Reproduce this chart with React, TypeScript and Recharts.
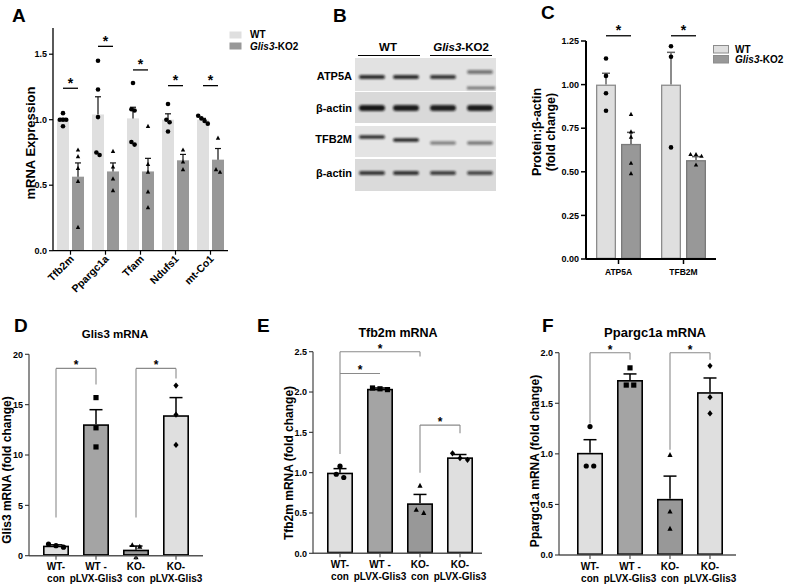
import React from 'react'
import { BarChart, Bar, XAxis, YAxis, ReferenceLine, Legend, Cell } from 'recharts'

const FONT = 'Arial, "Liberation Sans", Helvetica, sans-serif'
const LIGHT = '#dfdfdf'
const MID = '#a4a4a4'
const DARK = '#989898'

// ---- A: mRNA expression, WT vs Glis3-KO2
const genesA = ['Tfb2m', 'Ppargc1a', 'Tfam', 'Ndufs1', 'mt-Co1']
const wtMeanA = [1.0, 1.04, 1.01, 1.0, 1.0]
const wtSemA = [0.01, 0.135, 0.085, 0.045, 0.01]
const koMeanA = [0.565, 0.605, 0.605, 0.69, 0.695]
const koSemA = [0.105, 0.065, 0.1, 0.045, 0.085]
const wtPtsA = [[1.05, 1.0, 1.0, 1.0, 0.95], [1.45, 1.23, 1.02, 0.75, 0.73], [1.28, 1.08, 1.07, 0.83, 0.81], [1.12, 1.0, 0.98, 0.91], [1.03, 1.01, 0.99, 0.97]]
const koPtsA = [[0.77, 0.72, 0.63, 0.53, 0.18], [0.76, 0.64, 0.55, 0.46], [0.95, 0.66, 0.6, 0.45, 0.33], [0.77, 0.68, 0.62], [0.86, 0.62, 0.6]]
const sigA = [1.24, 1.56, 1.38, 1.26, 1.26]

// ---- B: western blot band darkness per row / lane
const blotRows = ['ATP5A', 'β-actin', 'TFB2M', 'β-actin']
const bandDarkness = [[0.85, 0.85, 0.8, 0.5], [0.95, 0.92, 0.9, 0.92], [0.85, 0.9, 0.45, 0.5], [0.8, 0.82, 0.75, 0.7]]

// ---- C: protein / β-actin
const catsC = ['ATP5A', 'TFB2M']
const wtMeanC = [1.0, 1.0]
const wtSemC = [0.065, 0.185]
const koMeanC = [0.66, 0.567]
const koSemC = [0.066, 0.02]
const wtPtsC = [[1.15, 1.05, 0.95, 0.85], [1.22, 1.16, 0.64]]
const koPtsC = [[0.83, 0.73, 0.7, 0.55, 0.49], [0.6, 0.6, 0.59, 0.54]]
const sigC = [1.28, 1.28]

// ---- D/E/F: rescue with pLVX-Glis3
const groups = ['WT-con', 'WT-pLVX', 'KO-con', 'KO-pLVX']
const tickTop = ['WT-', 'WT -', 'KO-', 'KO-']
const tickBottom = ['con', 'pLVX-Glis3', 'con', 'pLVX-Glis3']
const groupFill = [LIGHT, MID, DARK, LIGHT]
const groupMarker = ['circle', 'square', 'triangle', 'diamond']

const meanD = [1.0, 13.05, 0.6, 13.95]
const semD = [0.08, 1.45, 0.36, 1.75]
const ptsD = [[0.85, 1.15, 1.0], [15.7, 12.7, 10.8], [1.06, 0.9, -0.15], [16.9, 14.0, 11.0]]
const bracketsD = [
  { from: 'WT-con', to: 'WT-pLVX', y: 18.6, yFrom: 3.8, yTo: 17.0 },
  { from: 'KO-con', to: 'KO-pLVX', y: 18.6, yFrom: 3.8, yTo: 17.6 },
]

const meanE = [1.0, 2.04, 0.62, 1.19]
const semE = [0.05, 0.01, 0.11, 0.035]
const ptsE = [[1.08, 0.98, 0.94], [2.03, 2.05, 2.04], [0.84, 0.5, 0.54], [1.24, 1.18, 1.16]]
const bracketsE = [
  { from: 'WT-con', to: 'KO-con', y: 2.5, yFrom: 1.23, yTo: 2.44 },
  { from: 'WT-con', to: 'WT-pLVX', y: 2.23, yFrom: 2.23, yTo: 2.23 },
  { from: 'KO-con', to: 'KO-pLVX', y: 1.59, yFrom: 1.0, yTo: 1.49 },
]

const meanF = [1.01, 1.73, 0.555, 1.61]
const semF = [0.13, 0.06, 0.225, 0.14]
const ptsF = [[1.27, 0.88, 0.88], [1.85, 1.68, 1.68], [0.99, 0.43, 0.26], [1.87, 1.56, 1.4]]
const bracketsF = [
  { from: 'WT-con', to: 'WT-pLVX', y: 2.0, yFrom: 1.3, yTo: 1.93 },
  { from: 'KO-con', to: 'KO-pLVX', y: 2.0, yFrom: 1.04, yTo: 1.93 },
]

const rowsA = genesA.map((g, i) => ({
  gene: g, wt: wtMeanA[i], ko: koMeanA[i], wtSem: wtSemA[i], koSem: koSemA[i],
  wtPts: wtPtsA[i], koPts: koPtsA[i], sig: sigA[i],
}))
const rowsC = catsC.map((c, i) => ({
  cat: c, wt: wtMeanC[i], ko: koMeanC[i], wtSem: wtSemC[i], koSem: koSemC[i],
  wtPts: wtPtsC[i], koPts: koPtsC[i], sig: sigC[i],
}))
const rescueRows = (mean: number[], sem: number[], pts: number[][]) =>
  groups.map((g, i) => ({ group: g, mean: mean[i], sem: sem[i], pts: pts[i], marker: groupMarker[i] }))

function Marker({ kind, x, y, s }: any) {
  const h = s / 2
  if (kind === 'circle') return <circle cx={x} cy={y} r={h} fill="#000" />
  if (kind === 'square') return <rect x={x - h} y={y - h} width={s} height={s} fill="#000" />
  if (kind === 'diamond') return <polygon points={`${x},${y - h * 1.2} ${x + h},${y} ${x},${y + h * 1.2} ${x - h},${y}`} fill="#000" />
  return <polygon points={`${x},${y - h * 1.1} ${x + h},${y + h * 0.8} ${x - h},${y + h * 0.8}`} fill="#000" />
}

// GraphPad-ish scatter: replicates closer than one marker sit side by side, centred on the bar
function spread(ys: number[], s: number, d: number) {
  const order = ys.map((y, i) => i).sort((a, b) => ys[a] - ys[b])
  const dx = new Array(ys.length).fill(0)
  let cluster: number[] = []
  const flush = () => {
    cluster.forEach((idx, k) => { dx[idx] = (k - (cluster.length - 1) / 2) * d })
    cluster = []
  }
  order.forEach(idx => {
    if (cluster.length && Math.abs(ys[idx] - ys[cluster[cluster.length - 1]]) >= s) flush()
    cluster.push(idx)
  })
  flush()
  return dx
}

function barShape(o: any) {
  return (props: any) => {
    const { x, y, width, height, fill, payload } = props
    const mean = payload[o.meanKey]
    const base = y + height
    const ppu = height / mean
    const toY = (v: number) => base - v * ppu
    const cx = x + width / 2
    const sw = o.strokeWidth ?? 0
    const yErr = toY(mean + payload[o.semKey])
    const ys = payload[o.ptsKey].map(toY)
    const dx = spread(ys, o.markerSize, o.dodge)
    const kind = o.marker ?? payload.marker
    const sigY = o.sig ? toY(payload.sig) : 0
    return (
      <g>
        <rect x={x + sw / 2} y={y + sw / 2} width={width - sw} height={Math.max(0, height - sw)}
          fill={fill} stroke={o.stroke ?? 'none'} strokeWidth={sw} />
        <line x1={cx} x2={cx} y1={y} y2={yErr} stroke={o.errColor} strokeWidth={o.errWidth} />
        <line x1={cx - o.capW / 2} x2={cx + o.capW / 2} y1={yErr} y2={yErr} stroke={o.errColor} strokeWidth={o.errWidth} />
        {ys.map((py: number, i: number) => <Marker key={i} kind={kind} x={cx + dx[i]} y={py} s={o.markerSize} />)}
        {o.sig && (
          <g>
            <line x1={cx} x2={cx + o.sig} y1={sigY} y2={sigY} stroke="#000" strokeWidth={1.3} />
            <text x={cx + o.sig / 2} y={sigY - 0.5} textAnchor="middle" fontSize={o.starSize} fontWeight="bold" fontFamily={FONT}>*</text>
          </g>
        )}
      </g>
    )
  }
}

const YTick = ({ x, y, payload, fmt, size }: any) => (
  <text x={x} y={y} dy={size * 0.36} textAnchor="end" fontSize={size} fontWeight="bold" fontFamily={FONT} fill="#000">
    {fmt(payload.value)}
  </text>
)

const RotTick = ({ x, y, payload }: any) => (
  <text x={x + 4} y={y + 3} transform={`rotate(-45 ${x + 4} ${y + 3})`} textAnchor="end"
    fontSize={10.5} fontWeight="bold" fontFamily={FONT} fill="#000">{payload.value}</text>
)

const PlainTick = ({ x, y, payload }: any) => (
  <text x={x} y={y + 9} textAnchor="middle" fontSize={8.5} fontWeight="bold" fontFamily={FONT} fill="#000">{payload.value}</text>
)

const TwoLineTick = ({ x, y, payload }: any) => {
  const i = groups.indexOf(payload.value)
  return (
    <text x={x} y={y} textAnchor="middle" fontSize={10} fontWeight="bold" fontFamily={FONT} fill="#000">
      <tspan x={x} dy={8.5}>{tickTop[i]}</tspan>
      <tspan x={x} dy={12}>{tickBottom[i]}</tspan>
    </text>
  )
}

function LegendSwatches({ sw, sh, gap, textX, stroke, colors }: any) {
  return (
    <svg width={90} height={2 * sh + gap + 4} style={{ display: 'block', overflow: 'visible' }}>
      <rect x={0.5} y={0.5} width={sw} height={sh} fill={colors[0]} stroke={stroke} />
      <text x={textX} y={sh} fontSize={10} fontWeight="bold" fontFamily={FONT}>WT</text>
      <rect x={0.5} y={sh + gap + 0.5} width={sw} height={sh} fill={colors[1]} stroke={stroke} />
      <text x={textX} y={2 * sh + gap + 0.5} fontSize={10} fontWeight="bold" fontFamily={FONT}>
        <tspan fontStyle="italic">Glis3</tspan>-KO2
      </text>
    </svg>
  )
}

function PanelA() {
  return (
    <BarChart width={300} height={300} data={rowsA} margin={{ top: 28, right: 72, bottom: 9.3, left: 28 }} barGap={3}>
      <XAxis dataKey="gene" height={40} interval={0} tickSize={4} tick={<RotTick />}
        axisLine={{ stroke: '#000', strokeWidth: 1.3 }} tickLine={{ stroke: '#000', strokeWidth: 1.2 }} />
      <YAxis width={25} domain={[0, 1.7]} ticks={[0, 0.5, 1, 1.5]} tickSize={4}
        tick={<YTick size={9} fmt={(v: number) => v.toFixed(1)} />}
        axisLine={{ stroke: '#000', strokeWidth: 1.3 }} tickLine={{ stroke: '#000', strokeWidth: 1.2 }} />
      <Bar dataKey="wt" fill={LIGHT} barSize={12} isAnimationActive={false}
        shape={barShape({ meanKey: 'wt', semKey: 'wtSem', ptsKey: 'wtPts', errColor: '#111', errWidth: 1.2, capW: 6, marker: 'circle', markerSize: 4.6, dodge: 3.2, sig: 15, starSize: 14 })} />
      <Bar dataKey="ko" fill={DARK} barSize={12} isAnimationActive={false}
        shape={barShape({ meanKey: 'ko', semKey: 'koSem', ptsKey: 'koPts', errColor: '#111', errWidth: 1.2, capW: 6, marker: 'triangle', markerSize: 4.4, dodge: 4 })} />
      <Legend layout="vertical" align="center" verticalAlign="middle"
        wrapperStyle={{ left: 229, top: 31, width: 90, height: 26 }}
        content={() => <LegendSwatches sw={12} sh={7} gap={4} textX={21} stroke="none" colors={[LIGHT, DARK]} />} />
    </BarChart>
  )
}

function PanelC() {
  return (
    <BarChart width={267} height={300} data={rowsC} margin={{ top: 41, right: 71, bottom: 16, left: 36 }} barGap={5}>
      <XAxis dataKey="cat" height={25} interval={0} tickSize={5} tick={<PlainTick />}
        axisLine={{ stroke: '#000', strokeWidth: 2 }} tickLine={{ stroke: '#000', strokeWidth: 1.5 }} />
      <YAxis width={30} domain={[0, 1.25]} ticks={[0, 0.25, 0.5, 0.75, 1, 1.25]} tickSize={5}
        tick={<YTick size={9} fmt={(v: number) => v.toFixed(2)} />}
        axisLine={{ stroke: '#000', strokeWidth: 2 }} tickLine={{ stroke: '#000', strokeWidth: 1.5 }} />
      <Bar dataKey="wt" fill={LIGHT} barSize={20} isAnimationActive={false}
        shape={barShape({ meanKey: 'wt', semKey: 'wtSem', ptsKey: 'wtPts', stroke: '#8c8c8c', strokeWidth: 1.3, errColor: '#666', errWidth: 1.5, capW: 8, marker: 'circle', markerSize: 4.6, dodge: 5, sig: 25, starSize: 14 })} />
      <Bar dataKey="ko" fill={DARK} barSize={20} isAnimationActive={false}
        shape={barShape({ meanKey: 'ko', semKey: 'koSem', ptsKey: 'koPts', stroke: '#7a7a7a', strokeWidth: 1.3, errColor: '#555', errWidth: 1.5, capW: 8, marker: 'triangle', markerSize: 4.4, dodge: 5.5 })} />
      <Legend layout="vertical" align="center" verticalAlign="middle"
        wrapperStyle={{ left: 193, top: 45, width: 90, height: 24 }}
        content={() => <LegendSwatches sw={15} sh={7.5} gap={2.5} textX={22} stroke="#8c8c8c" colors={[LIGHT, DARK]} />} />
    </BarChart>
  )
}

function RescuePanel({ data, box, domain, ticks, fmt, padding, brackets }: any) {
  const rescueShape = barShape({ meanKey: 'mean', semKey: 'sem', ptsKey: 'pts', stroke: '#000', strokeWidth: 1.6, errColor: '#000', errWidth: 1.5, capW: 13, markerSize: 5.2, dodge: 7.5 })
  return (
    <BarChart width={box.w} height={box.h} data={data} margin={box.margin}>
      <XAxis dataKey="group" height={26} interval={0} tickSize={4} padding={padding} tick={<TwoLineTick />}
        axisLine={{ stroke: '#555', strokeWidth: 1.5 }} tickLine={{ stroke: '#555', strokeWidth: 1.2 }} />
      <YAxis width={box.yw} domain={domain} ticks={ticks} tickSize={4}
        tick={<YTick size={9} fmt={fmt} />}
        axisLine={{ stroke: '#333', strokeWidth: 1.1 }} tickLine={{ stroke: '#333', strokeWidth: 1.1 }} />
      <Bar dataKey="mean" barSize={26} isAnimationActive={false} shape={rescueShape}>
        {data.map((d: any, i: number) => <Cell key={d.group} fill={groupFill[i]} />)}
      </Bar>
      {brackets.map((b: any, i: number) => (
        <ReferenceLine key={`h${i}`} segment={[{ x: b.from, y: b.y }, { x: b.to, y: b.y }]} stroke="#8a8a8a" strokeWidth={1.1}
          label={{ value: '*', position: 'top', offset: -1, fontSize: 12, fontWeight: 'bold', fill: '#000', fontFamily: FONT }} />
      ))}
      {brackets.filter((b: any) => b.yFrom !== b.y).map((b: any, i: number) => (
        <ReferenceLine key={`l${i}`} segment={[{ x: b.from, y: b.yFrom }, { x: b.from, y: b.y }]} stroke="#8a8a8a" strokeWidth={1.1} />
      ))}
      {brackets.filter((b: any) => b.yTo !== b.y).map((b: any, i: number) => (
        <ReferenceLine key={`r${i}`} segment={[{ x: b.to, y: b.y }, { x: b.to, y: b.yTo }]} stroke="#8a8a8a" strokeWidth={1.1} />
      ))}
    </BarChart>
  )
}

// western blot geometry (picture, not data)
const STRIP_Y = [[58, 91], [92, 123], [126, 157], [159, 191]]
const STRIP_BG = ['#e2e2e2', '#d9d9d9', '#e4e4e4', '#dadada']
const LABEL_Y = [80, 112, 143, 177]
const LANE_X = [372, 406, 443, 480]
const BAND_Y = [[77, 77, 77, 72], [108, 108, 108, 108], [137, 140, 143, 143], [173, 173, 173, 173]]
const BAND_H = [4, 6, 3.5, 4]

function Blot() {
  return (
    <g fontFamily={FONT}>
      <defs>
        <filter id="bandBlur" x="-20%" y="-150%" width="140%" height="400%">
          <feGaussianBlur stdDeviation="0.9" />
        </filter>
      </defs>
      <text x={388} y={51} textAnchor="middle" fontSize={11.5} fontWeight="bold">WT</text>
      <line x1={358} x2={420} y1={55.5} y2={55.5} stroke="#000" strokeWidth={1.2} />
      <text x={461} y={51} textAnchor="middle" fontSize={11.5} fontWeight="bold"><tspan fontStyle="italic">Glis3</tspan>-KO2</text>
      <line x1={430} x2={492} y1={55.5} y2={55.5} stroke="#000" strokeWidth={1.2} />
      {blotRows.map((name, r) => (
        <g key={r}>
          <rect x={355} y={STRIP_Y[r][0]} width={141} height={STRIP_Y[r][1] - STRIP_Y[r][0]} fill={STRIP_BG[r]} />
          <text x={352} y={LABEL_Y[r]} textAnchor="end" fontSize={11} fontWeight="bold">{name}</text>
          {bandDarkness[r].map((d, l) => (
            <rect key={l} x={LANE_X[l] - 13} y={BAND_Y[r][l] - BAND_H[r] / 2} width={26} height={BAND_H[r]}
              rx={BAND_H[r] / 2} fill="#111" opacity={d} filter="url(#bandBlur)" />
          ))}
        </g>
      ))}
      <rect x={467} y={86.5} width={28} height={3} fill="#222" opacity={0.55} filter="url(#bandBlur)" />
    </g>
  )
}

const RotLabel = ({ x, y, size, children }: any) => (
  <text x={x} y={y} transform={`rotate(-90 ${x} ${y})`} textAnchor="middle" dominantBaseline="central"
    fontSize={size} fontWeight="bold" fontFamily={FONT}>{children}</text>
)

function Overlay() {
  const letter = { fontSize: 19, fontWeight: 'bold' as const, fontFamily: FONT }
  return (
    <svg width={787} height={584} style={{ position: 'absolute', left: 0, top: 0 }}>
      <text x={12} y={22} {...letter}>A</text>
      <text x={333} y={22} {...letter}>B</text>
      <text x={541} y={19} {...letter}>C</text>
      <text x={14} y={332} {...letter}>D</text>
      <text x={257} y={332} {...letter}>E</text>
      <text x={542} y={332} {...letter}>F</text>
      <RotLabel x={30} y={143} size={13}>mRNA Expression</RotLabel>
      <RotLabel x={537} y={132} size={12.5}>Protein:β-actin</RotLabel>
      <RotLabel x={551} y={132} size={12.5}>(fold change)</RotLabel>
      <RotLabel x={7} y={470} size={12}>Glis3 mRNA (fold change)</RotLabel>
      <RotLabel x={289} y={463} size={12}>Tfb2m mRNA (fold change)</RotLabel>
      <RotLabel x={535} y={461} size={12}>Ppargc1a mRNA (fold change)</RotLabel>
      <text x={115} y={338} textAnchor="middle" fontSize={11.5} fontWeight="bold" fontFamily={FONT}>Glis3 mRNA</text>
      <text x={398} y={337} textAnchor="middle" fontSize={12.5} fontWeight="bold" fontFamily={FONT}>Tfb2m mRNA</text>
      <text x={655} y={337} textAnchor="middle" fontSize={13} fontWeight="bold" fontFamily={FONT}>Ppargc1a mRNA</text>
      <Blot />
    </svg>
  )
}

export default function App() {
  return (
    <div style={{ position: 'absolute', left: 0, top: 0, width: 787, height: 584, background: '#fff', fontFamily: FONT, overflow: 'hidden' }}>
      <Overlay />
      <div style={{ position: 'absolute', left: 0, top: 0 }}><PanelA /></div>
      <div style={{ position: 'absolute', left: 520, top: 0 }}><PanelC /></div>
      <div style={{ position: 'absolute', left: 0, top: 290 }}>
        <RescuePanel data={rescueRows(meanD, semD, ptsD)} brackets={bracketsD}
          box={{ w: 260, h: 294, yw: 20, margin: { top: 64.3, right: 57, bottom: 2.3, left: 9 } }}
          domain={[0, 20]} ticks={[0, 5, 10, 15, 20]} fmt={(v: number) => String(v)} padding={{ left: 7, right: 7 }} />
      </div>
      <div style={{ position: 'absolute', left: 260, top: 290 }}>
        <RescuePanel data={rescueRows(meanE, semE, ptsE)} brackets={bracketsE}
          box={{ w: 260, h: 294, yw: 22, margin: { top: 61.7, right: 38, bottom: 4.7, left: 31 } }}
          domain={[0, 2.5]} ticks={[0, 0.5, 1, 1.5, 2, 2.5]} fmt={(v: number) => v.toFixed(1)} padding={{ left: 7, right: 2 }} />
      </div>
      <div style={{ position: 'absolute', left: 520, top: 290 }}>
        <RescuePanel data={rescueRows(meanF, semF, ptsF)} brackets={bracketsF}
          box={{ w: 267, h: 294, yw: 22, margin: { top: 62.7, right: 51, bottom: 3, left: 17 } }}
          domain={[0, 2]} ticks={[0, 0.5, 1, 1.5, 2]} fmt={(v: number) => v.toFixed(1)} padding={{ left: 11, right: 6 }} />
      </div>
    </div>
  )
}
